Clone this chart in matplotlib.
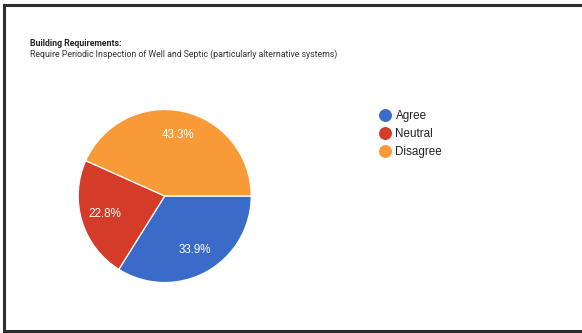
import matplotlib.pyplot as plt
from matplotlib.lines import Line2D

# survey responses
categories = ['Agree', 'Neutral', 'Disagree']
shares = [33.9, 22.8, 43.3]
colors = ['#3b6bc9', '#d53b29', '#f99a38']

title = 'Building Requirements:'
subtitle = 'Require Periodic Inspection of Well and Septic (particularly alternative systems)'

W, H = 582, 333
fig = plt.figure(figsize=(W / 100, H / 100), dpi=100)
fig.patch.set_facecolor('white')

# frame around the panel (open on the right side)
frame_kw = dict(color='#2e2e2e', lw=2.2, transform=fig.transFigure)
fig.add_artist(Line2D([4 / W, 4 / W], [1 - 4.5 / H, 1 - 331 / H], **frame_kw))
fig.add_artist(Line2D([4 / W, 1], [1 - 4.5 / H, 1 - 4.5 / H], **frame_kw))
fig.add_artist(Line2D([4 / W, 1], [1 - 331 / H, 1 - 331 / H], **frame_kw))

fig.text(30 / W, 1 - 43.5 / H, title, fontsize=6.3, fontweight='bold',
         family='Roboto', va='center', ha='left', color='#222222')
fig.text(30 / W, 1 - 54.5 / H, subtitle, fontsize=6.3,
         family='Roboto', va='center', ha='left', color='#333333')

# pie
cx, cy, r = 164.7, 196.0, 86.5
ax = fig.add_axes([(cx - r) / W, (H - cy - r) / H, 2 * r / W, 2 * r / H])
wedges, texts, autotexts = ax.pie(
    shares, colors=colors, startangle=0, counterclock=False,
    autopct='%.1f%%', pctdistance=0.72,
    wedgeprops=dict(edgecolor='white', linewidth=0.9),
    textprops=dict(color='white', fontsize=8.4, family='Liberation Sans'))
ax.set_aspect('equal')
ax.set_xlim(-1, 1)
ax.set_ylim(-1, 1)
ax.axis('off')

# legend
handles = [Line2D([], [], marker='o', linestyle='none', markersize=8.3,
                  markerfacecolor=c, markeredgecolor=c) for c in colors]
fig.legend(handles, categories, loc='upper left',
           bbox_to_anchor=(378 / W, 1 - 110 / H), frameon=False,
           prop=dict(family='Liberation Sans', size=8.4),
           handletextpad=0.3, labelspacing=0.5, handlelength=1.2,
           borderpad=0, borderaxespad=0, labelcolor='#222222')

fig.savefig('out.png', dpi=100, facecolor='white')
